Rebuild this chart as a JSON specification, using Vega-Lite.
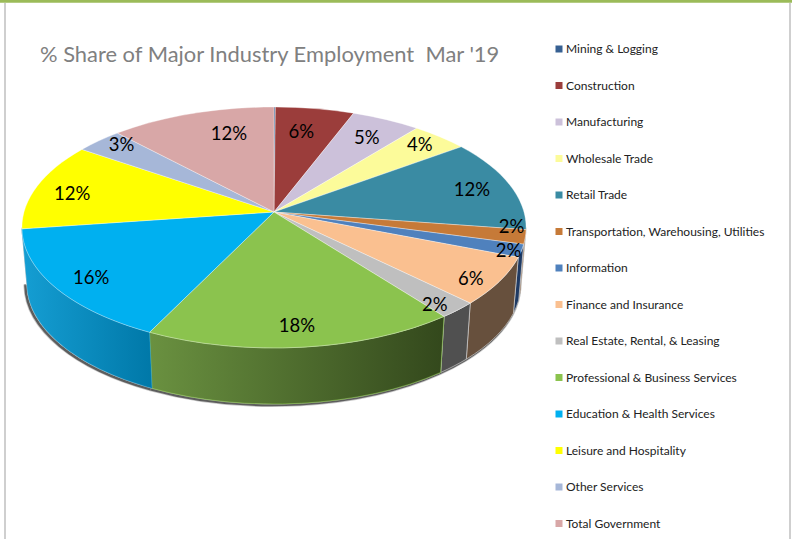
{
"$schema":"https://vega.github.io/schema/vega-lite/v6.json",
"width":792,"height":539,"padding":0,"autosize":{"type":"none"},
"background":"white",
"view":{"stroke":null},
"title":{"text":"% Share of Major Industry Employment \u00a0Mar '19","anchor":"start","frame":"group","dx":40,"dy":72,"fontSize":21.9,"fontWeight":"normal","font":"Lato","color":"#808080"},
"data":{"values":[
{"industry":"Mining & Logging","share":0.1},
{"industry":"Construction","share":5.7},
{"industry":"Manufacturing","share":5.0},
{"industry":"Wholesale Trade","share":4.1},
{"industry":"Retail Trade","share":12.4},
{"industry":"Transportation, Warehousing, Utilities","share":1.9},
{"industry":"Information","share":1.7},
{"industry":"Finance and Insurance","share":6.4},
{"industry":"Real Estate, Rental, & Leasing","share":2.2},
{"industry":"Professional & Business Services","share":17.7},
{"industry":"Education & Health Services","share":15.5},
{"industry":"Leisure and Hospitality","share":11.8},
{"industry":"Other Services","share":3.4},
{"industry":"Total Government","share":12.0}
]},
"transform":[
{"stack":"share","groupby":[],"offset":"normalize","as":["s0","s1"]},
{"calculate":"2*PI*datum.s0","as":"a0"},
{"calculate":"2*PI*datum.s1","as":"a1"},
{"calculate":"max(datum.a0,1.7)","as":"c0"},
{"calculate":"min(datum.a1,4.583)","as":"c1"},
{"calculate":"(datum.a0+datum.a1)/2","as":"am"},
{"calculate":"250*sin(datum.a0)/(1+0.1286*cos(datum.a0))","as":"x0"},
{"calculate":"-118.5*cos(datum.a0)/(1+0.1286*cos(datum.a0))","as":"y0"},
{"calculate":"250*sin(datum.a1)/(1+0.1286*cos(datum.a1))","as":"x1"},
{"calculate":"-118.5*cos(datum.a1)/(1+0.1286*cos(datum.a1))","as":"y1"},
{"calculate":"250*sin(datum.c0)/(1+0.1286*cos(datum.c0))","as":"sx0"},
{"calculate":"-118.5*cos(datum.c0)/(1+0.1286*cos(datum.c0))","as":"sy0"},
{"calculate":"250*sin(datum.c1)/(1+0.1286*cos(datum.c1))","as":"sx1"},
{"calculate":"-118.5*cos(datum.c1)/(1+0.1286*cos(datum.c1))","as":"sy1"},
{"calculate":"'M 0 0 L '+datum.x0+' '+datum.y0+' A 252.1 120.5 0 0 1 '+datum.x1+' '+datum.y1+' Z'","as":"topPath"},
{"calculate":"'M '+datum.sx0+' '+datum.sy0+' A 252.1 120.5 0 0 1 '+datum.sx1+' '+datum.sy1+' L '+(0.98*datum.sx1)+' '+(datum.sy1+56)+' A 247 120.5 0 0 0 '+(0.98*datum.sx0)+' '+(datum.sy0+56)+' Z'","as":"sidePath"},
{"calculate":"'M '+(0.98*datum.sx1-1.5)+' '+(datum.sy1+57)+' A 247 120.5 0 0 0 '+(0.98*datum.sx0-1.5)+' '+(datum.sy0+57)","as":"shadowPath"},
{"calculate":"datum.share<2.1?0.95:0.85","as":"f"},
{"calculate":"{'Mining & Logging':[0,0],'Construction':[-8,9],'Manufacturing':[-4,6],'Wholesale Trade':[3,-2],'Retail Trade':[-3,2],'Transportation, Warehousing, Utilities':[-1,-9],'Information':[0,2],'Finance and Insurance':[7,9],'Real Estate, Rental, & Leasing':[7,11],'Professional & Business Services':[-1,2],'Education & Health Services':[1,3],'Leisure and Hospitality':[0,5],'Other Services':[-2,-6],'Total Government':[26,7]}[datum.industry]","as":"nudge"},
{"calculate":"250*datum.f*sin(datum.am)/(1+0.1286*datum.f*cos(datum.am))+datum.nudge[0]","as":"lx"},
{"calculate":"-118.5*datum.f*cos(datum.am)/(1+0.1286*datum.f*cos(datum.am))+datum.nudge[1]","as":"ly"},
{"calculate":"round(datum.share)+'%'","as":"label"}
],
"layer":[
{"transform":[{"filter":"datum.c1>datum.c0"}],
 "mark":{"type":"point","filled":false,"stroke":"#444444","strokeWidth":4,"opacity":0.3,"size":4},
 "encoding":{
  "x":{"datum":0,"type":"quantitative","scale":{"domain":[-274,518],"nice":false,"zero":false},"axis":null},
  "y":{"datum":0,"type":"quantitative","scale":{"domain":[-212,327],"nice":false,"zero":false,"reverse":true},"axis":null},
  "shape":{"field":"shadowPath","type":"nominal","scale":null,"legend":null}}},
{"transform":[{"filter":"datum.c1>datum.c0"}],
 "mark":{"type":"point","filled":false,"stroke":"#444444","strokeWidth":2.5,"opacity":0.8,"size":4},
 "encoding":{
  "x":{"datum":0,"type":"quantitative","scale":{"domain":[-274,518],"nice":false,"zero":false},"axis":null},
  "y":{"datum":0,"type":"quantitative","scale":{"domain":[-212,327],"nice":false,"zero":false,"reverse":true},"axis":null},
  "shape":{"field":"shadowPath","type":"nominal","scale":null,"legend":null}}},
{"transform":[{"filter":"datum.c1>datum.c0"}],
 "mark":{"type":"point","filled":true,"opacity":1,"size":4,"stroke":"#d9d9d9","strokeWidth":0.6},
 "encoding":{
  "x":{"datum":0,"type":"quantitative","scale":{"domain":[-274,518],"nice":false,"zero":false},"axis":null},
  "y":{"datum":0,"type":"quantitative","scale":{"domain":[-212,327],"nice":false,"zero":false,"reverse":true},"axis":null},
  "shape":{"field":"sidePath","type":"nominal","scale":null,"legend":null},
  "fill":{"field":"industry","type":"nominal","legend":null,"scale":{"domain":["Transportation, Warehousing, Utilities","Information","Finance and Insurance","Real Estate, Rental, & Leasing","Retail Trade","Leisure and Hospitality"],"range":["#7a4a24","#1f3a63","#67503d","#505050","#256a7c","#a8a800"]}}}},
{"transform":[{"filter":"datum.industry==='Professional & Business Services'"}],
 "mark":{"type":"point","filled":true,"opacity":1,"size":4,"stroke":"#8ac44c","strokeWidth":0.6,
  "fill":{"gradient":"linear","x1":0,"y1":0,"x2":1,"y2":0,"stops":[{"offset":0,"color":"#6a9140"},{"offset":1,"color":"#33481c"}]}},
 "encoding":{
  "x":{"datum":0,"type":"quantitative","scale":{"domain":[-274,518],"nice":false,"zero":false},"axis":null},
  "y":{"datum":0,"type":"quantitative","scale":{"domain":[-212,327],"nice":false,"zero":false,"reverse":true},"axis":null},
  "shape":{"field":"sidePath","type":"nominal","scale":null,"legend":null}}},
{"transform":[{"filter":"datum.industry==='Education & Health Services'"}],
 "mark":{"type":"point","filled":true,"opacity":1,"size":4,"stroke":"#2aa6d8","strokeWidth":0.4,
  "fill":{"gradient":"linear","x1":0,"y1":0,"x2":1,"y2":0,"stops":[{"offset":0,"color":"#159ed3"},{"offset":1,"color":"#0078a8"}]}},
 "encoding":{
  "x":{"datum":0,"type":"quantitative","scale":{"domain":[-274,518],"nice":false,"zero":false},"axis":null},
  "y":{"datum":0,"type":"quantitative","scale":{"domain":[-212,327],"nice":false,"zero":false,"reverse":true},"axis":null},
  "shape":{"field":"sidePath","type":"nominal","scale":null,"legend":null}}},
{"mark":{"type":"point","filled":true,"opacity":1,"size":4,"stroke":"#ffffff","strokeWidth":0.5,"strokeOpacity":0.7},
 "encoding":{
  "x":{"datum":0,"type":"quantitative","scale":{"domain":[-274,518],"nice":false,"zero":false},"axis":null},
  "y":{"datum":0,"type":"quantitative","scale":{"domain":[-212,327],"nice":false,"zero":false,"reverse":true},"axis":null},
  "shape":{"field":"topPath","type":"nominal","scale":null,"legend":null},
  "fill":{"field":"industry","type":"nominal",
   "scale":{"domain":["Mining & Logging","Construction","Manufacturing","Wholesale Trade","Retail Trade","Transportation, Warehousing, Utilities","Information","Finance and Insurance","Real Estate, Rental, & Leasing","Professional & Business Services","Education & Health Services","Leisure and Hospitality","Other Services","Total Government"],
   "range":["#376092","#9b3d3b","#ccc1da","#fcfb9a","#3a8ba3","#c67a38","#4f81bd","#fac090","#bfbfbf","#8bc34e","#00b0f0","#ffff00","#a6b7d8","#d8a7a7"]},
   "legend":{"title":null,"orient":"none","legendX":553,"legendY":43,"padding":0,"symbolType":"square","symbolSize":49,"symbolStrokeWidth":0,"symbolOpacity":1,"labelFont":"Lato","labelFontSize":12,"labelColor":"#222222","labelOffset":1,"rowPadding":24.5,"labelLimit":240}}}},
{"transform":[{"filter":"datum.share>=1"}],
 "mark":{"type":"text","font":"Lato","fontSize":18.5,"color":"#000000","align":"center","baseline":"middle"},
 "encoding":{
  "x":{"field":"lx","type":"quantitative","scale":{"domain":[-274,518],"nice":false,"zero":false},"axis":null},
  "y":{"field":"ly","type":"quantitative","scale":{"domain":[-212,327],"nice":false,"zero":false,"reverse":true},"axis":null},
  "text":{"field":"label","type":"nominal"}}},
{"data":{"values":[{"frame":"top"}]},"mark":{"type":"rule","stroke":"#9bbb59","strokeWidth":3.5},
 "encoding":{"x":{"datum":-274,"type":"quantitative"},"x2":{"datum":518},"y":{"datum":-211,"type":"quantitative"}}},
{"data":{"values":[{"frame":"left"}]},"mark":{"type":"rule","stroke":"#bfbfbf","strokeWidth":1.5},
 "encoding":{"x":{"datum":-269,"type":"quantitative"},"y":{"datum":-209,"type":"quantitative"},"y2":{"datum":327}}},
{"data":{"values":[{"frame":"right"}]},"mark":{"type":"rule","stroke":"#bfbfbf","strokeWidth":1.5},
 "encoding":{"x":{"datum":516,"type":"quantitative"},"y":{"datum":-209,"type":"quantitative"},"y2":{"datum":327}}}
],
"resolve":{"scale":{"fill":"independent"},"legend":{"fill":"independent"}}
}
